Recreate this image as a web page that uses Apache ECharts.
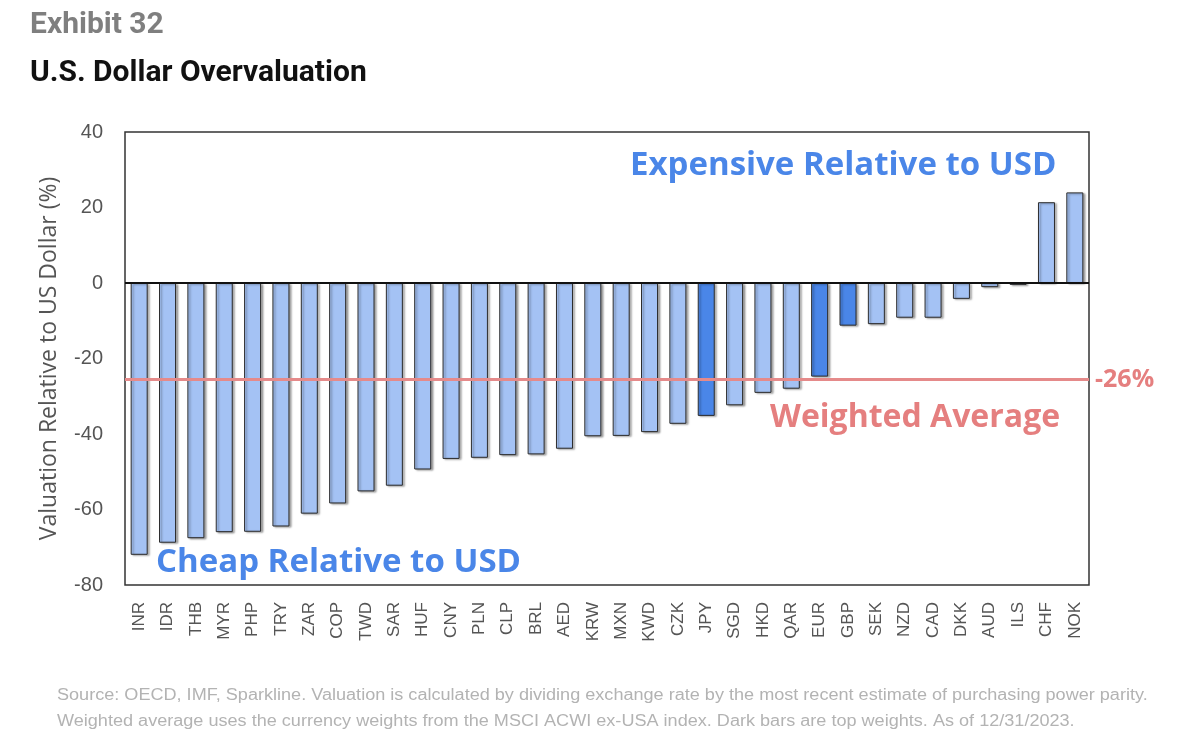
<!DOCTYPE html>
<html><head><meta charset="utf-8">
<script src="https://cdn.jsdelivr.net/npm/echarts@6/dist/echarts.min.js"></script>
<style>html,body{margin:0;padding:0;background:#fff}#c{width:1200px;height:754px}</style>
</head><body><div id="c"></div>
<script>
const categories = ['INR','IDR','THB','MYR','PHP','TRY','ZAR','COP','TWD','SAR','HUF','CNY','PLN','CLP','BRL','AED','KRW','MXN','KWD','CZK','JPY','SGD','HKD','QAR','EUR','GBP','SEK','NZD','CAD','DKK','AUD','ILS','CHF','NOK'];
const values = [-72,-68.8,-67.6,-66,-65.9,-64.5,-61.1,-58.4,-55.2,-53.7,-49.4,-46.6,-46.3,-45.6,-45.4,-43.9,-40.6,-40.5,-39.5,-37.3,-35.2,-32.4,-29.1,-28,-24.8,-11.3,-10.9,-9.2,-9.2,-4.2,-1.1,-0.5,21.4,24];
const topWeights = ['JPY','EUR','GBP'];
const weightedAverage = -25.6;
const yTicks = {min:-80, max:40, interval:20};

const light = '#a4c2f4', dark = '#4a86e8';
const chart = echarts.init(document.getElementById('c'));
chart.setOption({
  animation:false,
  graphic:[
    {type:'text', x:30, y:25, style:{text:'Exhibit 32', font:'bold 30px Roboto', fill:'#7f7f7f', textVerticalAlign:'middle'}},
    {type:'text', x:30, y:73, style:{text:'U.S. Dollar Overvaluation', font:'bold 30px Roboto', fill:'#111', textVerticalAlign:'middle'}},
    {type:'text', x:630, y:166, style:{text:'Expensive Relative to USD', font:'bold 33px "Open Sans"', fill:'#4a86e8', textVerticalAlign:'middle'}},
    {type:'text', x:156, y:563, style:{text:'Cheap Relative to USD', font:'bold 33px "Open Sans"', fill:'#4a86e8', textVerticalAlign:'middle'}},
    {type:'text', x:770, y:418, style:{text:'Weighted Average', font:'bold 32px "Open Sans"', fill:'#e57f7f', textVerticalAlign:'middle'}},
    {type:'text', x:57, y:696, scaleX:1.13, style:{text:'Source: OECD, IMF, Sparkline. Valuation is calculated by dividing exchange rate by the most recent estimate of purchasing power parity.', font:'16px "Liberation Sans"', fill:'#b3b3b3', textVerticalAlign:'middle'}},
    {type:'text', x:57, y:722, scaleX:1.13, style:{text:'Weighted average uses the currency weights from the MSCI ACWI ex-USA index. Dark bars are top weights. As of 12/31/2023.', font:'16px "Liberation Sans"', fill:'#b3b3b3', textVerticalAlign:'middle'}}
  ],
  grid:{left:125, right:111, top:132, bottom:169, show:true, borderColor:'#333', borderWidth:1.5, backgroundColor:'transparent'},
  xAxis:{type:'category', data:categories,
    axisLine:{onZero:false, show:false}, axisTick:{show:false},
    axisLabel:{rotate:90, color:'#555', fontSize:17, fontFamily:'Liberation Sans', margin:17}},
  yAxis:{type:'value', min:yTicks.min, max:yTicks.max, interval:yTicks.interval,
    name:'Valuation Relative to US Dollar (%)', nameLocation:'middle', nameGap:64, nameRotate:90,
    nameTextStyle:{color:'#555', fontSize:23, fontFamily:'Open Sans'},
    axisLine:{show:false}, axisTick:{show:false}, splitLine:{show:false},
    axisLabel:{color:'#555', fontSize:20, fontFamily:'Liberation Sans', margin:22}},
  series:[{
    type:'bar', barCategoryGap:'40%',
    data: values.map((v,i)=>({value:v, itemStyle:{color: topWeights.includes(categories[i]) ? dark : light}})),
    itemStyle:{borderColor:'#2b2b2b', borderWidth:1, shadowColor:'rgba(0,0,0,0.35)', shadowOffsetX:2, shadowOffsetY:1, shadowBlur:2},
    markLine:{silent:true, symbol:'none', data:[
      {yAxis:0, lineStyle:{color:'#111', width:2, type:'solid'}, label:{show:false}},
      {yAxis:weightedAverage, lineStyle:{color:'#e58a8a', width:3, type:'solid'},
       label:{show:true, position:'end', formatter:()=>Math.round(weightedAverage)+'%', color:'#e57f7f', fontSize:25, fontWeight:'bold', fontFamily:'Open Sans', distance:6}}
    ]}
  }]
});
</script></body></html>
